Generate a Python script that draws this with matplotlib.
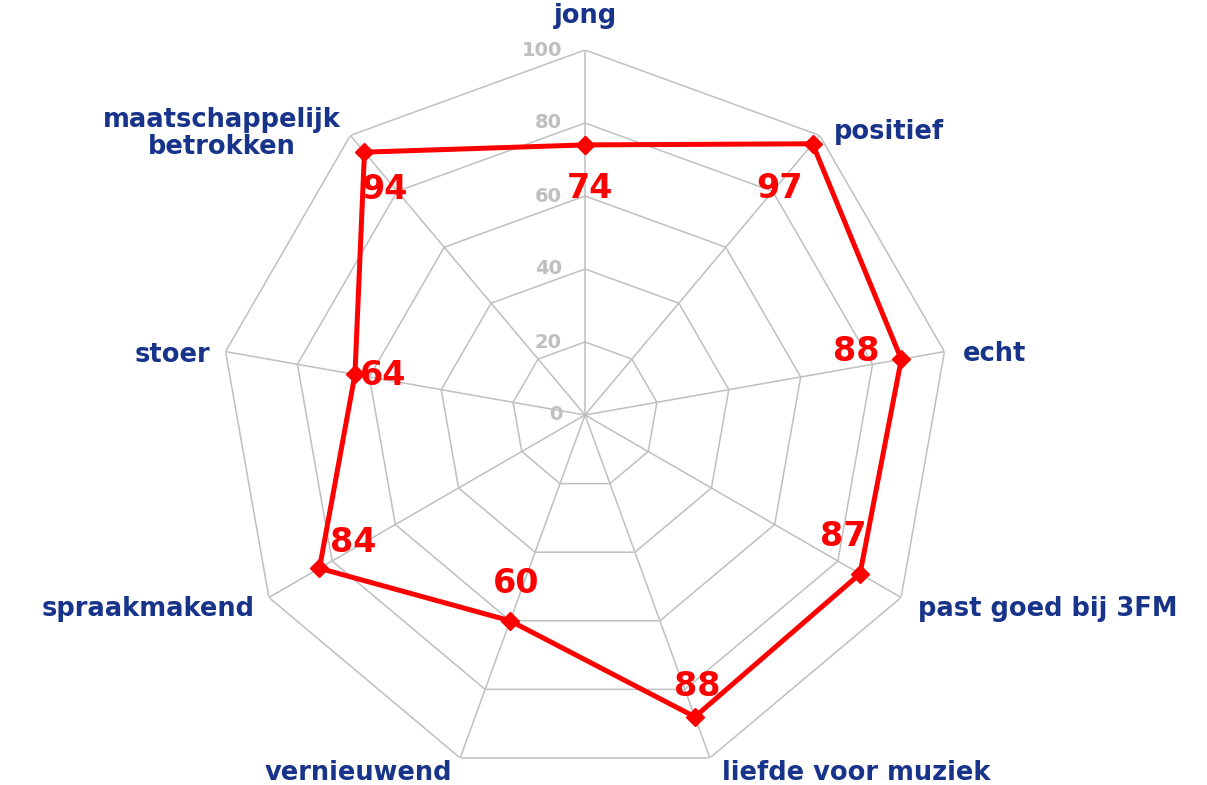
import numpy as np
import matplotlib
matplotlib.use("Agg")
import matplotlib.pyplot as plt

categories = ["jong", "positief", "echt", "past goed bij 3FM", "liefde voor muziek",
              "vernieuwend", "spraakmakend", "stoer", "maatschappelijk\nbetrokken"]
values = [74, 97, 88, 87, 88, 60, 84, 64, 94]
ticks = [0, 20, 40, 60, 80, 100]

# label placement (styles, pixel offsets)
label_offsets = [(5, -44), (-33, -45), (-45, 8), (-17, 37), (2, 30),
                 (6, 37), (34, 26), (28, -1), (20, -37)]
cat_offsets = [(0, 34, 'center', 'center'), (14, 3, 'left', 'center'),
               (18, -2, 'left', 'center'), (17, -11, 'left', 'center'),
               (12, -15, 'left', 'center'), (-8, -15, 'right', 'center'),
               (-14, -11, 'right', 'center'), (-15, -3, 'right', 'center'),
               (-10, 2, 'right', 'center')]

W, H = 1207, 785
fig = plt.figure(figsize=(W / 100, H / 100), dpi=100)
cx, cy, R = 585, 415, 365
ax = fig.add_axes([(cx - R) / W, (H - cy - R) / H, 2 * R / W, 2 * R / H], projection='polar')
ax.set_theta_zero_location('N')
ax.set_theta_direction(-1)
ax.set_ylim(0, 100)
ax.axis('off')

n = len(categories)
ang = np.arange(n) * 2 * np.pi / n
ang_c = np.append(ang, ang[0])

grid_col = '#BFBFBF'
for t in ticks[1:]:
    ax.plot(ang_c, [t] * (n + 1), color=grid_col, lw=1.1, zorder=1)
for a in ang:
    ax.plot([a, a], [0, 100], color=grid_col, lw=1.1, zorder=1)

for t in ticks:
    ax.annotate(str(t), xy=(0, t), xytext=(-23, 0), textcoords='offset pixels',
                ha='right', va='center', color=grid_col, fontsize=14,
                fontweight='bold', family='DejaVu Sans', zorder=2)

vals_c = values + [values[0]]
ax.plot(ang_c, vals_c, color='#FF0000', lw=3.6, marker='D', markersize=9,
        markerfacecolor='#FF0000', markeredgecolor='#FF0000', zorder=3)

for a, v, (dx, dy) in zip(ang, values, label_offsets):
    ax.annotate(str(v), xy=(a, v), xytext=(dx, dy), textcoords='offset pixels',
                ha='center', va='center', color='#FF0000', fontsize=24,
                fontweight='bold', zorder=4)

for a, c, (dx, dy, ha, va) in zip(ang, categories, cat_offsets):
    ax.annotate(c, xy=(a, 100), xytext=(dx, dy), textcoords='offset pixels',
                ha=ha, va=va, multialignment='center', color='#17348A',
                fontsize=18.5, fontweight='bold', annotation_clip=False,
                linespacing=1.05)

fig.savefig('out.png', dpi=100)
